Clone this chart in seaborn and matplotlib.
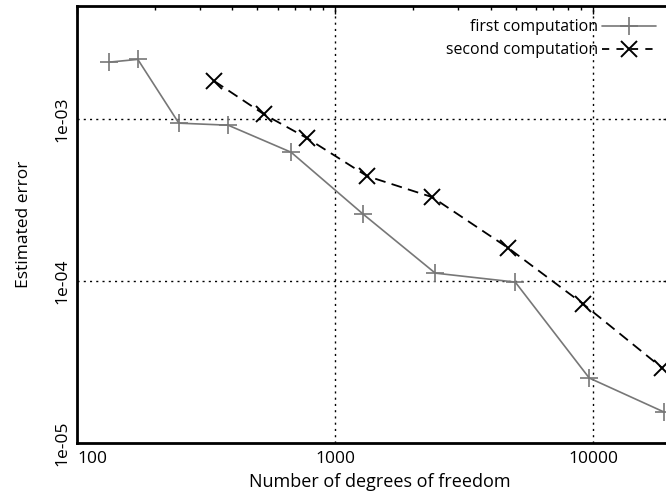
import matplotlib
matplotlib.use("Agg")
import matplotlib.pyplot as plt
import matplotlib.ticker as mticker
from matplotlib.lines import Line2D
import seaborn as sns
import pandas as pd

# data
first_dofs = [133, 172, 248, 385, 675, 1284, 2442, 4985, 9643, 18850]
first_err = [2.25e-3, 2.34e-3, 9.45e-4, 9.18e-4, 6.25e-4, 2.59e-4, 1.12e-4, 9.86e-5, 2.52e-5, 1.55e-5]
second_dofs = [340, 531, 779, 1330, 2377, 4686, 9146, 18510]
second_err = [1.72e-3, 1.07e-3, 7.63e-4, 4.45e-4, 3.30e-4, 1.60e-4, 7.21e-5, 2.90e-5]
series_labels = ["first computation", "second computation"]
x_ticks = [100, 1000, 10000]
x_tick_labels = ["100", "1000", "10000"]
y_ticks = [1e-5, 1e-4, 1e-3]
y_tick_labels = ["1e-05", "1e-04", "1e-03"]

sns.set_theme(style="white")
plt.rcParams["font.family"] = ["Open Sans", "DejaVu Sans"]

W, H = 666, 495
fig = plt.figure(figsize=(W / 100, H / 100), dpi=100)
left, right, bottom, top = 77, 671, 443, 6
ax = fig.add_axes([left / W, (H - bottom) / H, (right - left) / W, (bottom - top) / H])

df1 = pd.DataFrame({"dofs": first_dofs, "err": first_err})
df2 = pd.DataFrame({"dofs": second_dofs, "err": second_err})

gray = "#777777"
dash = (0, (6, 3.5))
sns.lineplot(data=df1, x="dofs", y="err", ax=ax, color=gray, lw=1.2, marker="+",
             markersize=13, markeredgewidth=1.2, markeredgecolor=gray,
             sort=False, errorbar=None)
sns.lineplot(data=df2, x="dofs", y="err", ax=ax, color="black", lw=1.3, marker="x",
             markersize=11, markeredgewidth=1.4, markeredgecolor="black",
             sort=False, errorbar=None, linestyle=dash)

ax.set_xscale("log")
ax.set_yscale("log")
ax.set_xlim(100, 20000)
ax.set_ylim(1e-5, 5e-3)

ax.set_xticks(x_ticks)
ax.set_xticklabels(x_tick_labels)
ax.set_yticks(y_ticks)
ax.set_yticklabels(y_tick_labels)
ax.xaxis.set_minor_locator(mticker.LogLocator(base=10, subs=range(2, 10)))
ax.yaxis.set_minor_locator(mticker.LogLocator(base=10, subs=range(2, 10)))
ax.xaxis.set_minor_formatter(mticker.NullFormatter())
ax.yaxis.set_minor_formatter(mticker.NullFormatter())

fs = 12.5
ax.tick_params(axis="both", which="major", direction="in", length=6, width=1,
               labelsize=fs, top=True, right=True, color="black", labelcolor="black")
ax.tick_params(axis="both", which="minor", direction="in", length=3, width=1,
               top=True, right=True, color="black")
ax.tick_params(axis="x", pad=6)
ax.tick_params(axis="y", pad=5)
for t in ax.get_yticklabels():
    t.set_rotation(90)
    t.set_verticalalignment("center")
    t.set_horizontalalignment("right")
    t.set_rotation_mode("default")
labs = ax.get_xticklabels()
labs[0].set_horizontalalignment("left")

for s in ax.spines.values():
    s.set_color("black")
    s.set_linewidth(2)

ax.grid(False)
for xv in x_ticks[1:]:
    ax.axvline(xv, color="black", lw=1, ls=(0, (1.5, 3)), zorder=0)
for yv in y_ticks[1:]:
    ax.axhline(yv, color="black", lw=1, ls=(0, (1.5, 3)), zorder=0)

ax.set_xlabel("Number of degrees of freedom", fontsize=13, color="black")
ax.xaxis.set_label_coords((380 - left) / (right - left), -0.068)
ax.set_ylabel("Estimated error", fontsize=fs, color="black", labelpad=16)

handles = [
    Line2D([], [], color=gray, lw=1.2, marker="+", markersize=13, markeredgewidth=1.2,
           markeredgecolor=gray),
    Line2D([], [], color="black", lw=1.3, marker="x", markersize=11, markeredgewidth=1.4,
           markeredgecolor="black", linestyle=(0, (4, 4))),
]
leg = ax.legend(handles, series_labels, loc="upper right", frameon=False,
                markerfirst=False, fontsize=11.4, handlelength=3.4, handletextpad=0.25,
                labelspacing=0.45, bbox_to_anchor=(662 / W, (H - 13) / H),
                bbox_transform=fig.transFigure, borderaxespad=0)
for t in leg.get_texts():
    t.set_color("black")

fig.savefig("out.png", dpi=100)
